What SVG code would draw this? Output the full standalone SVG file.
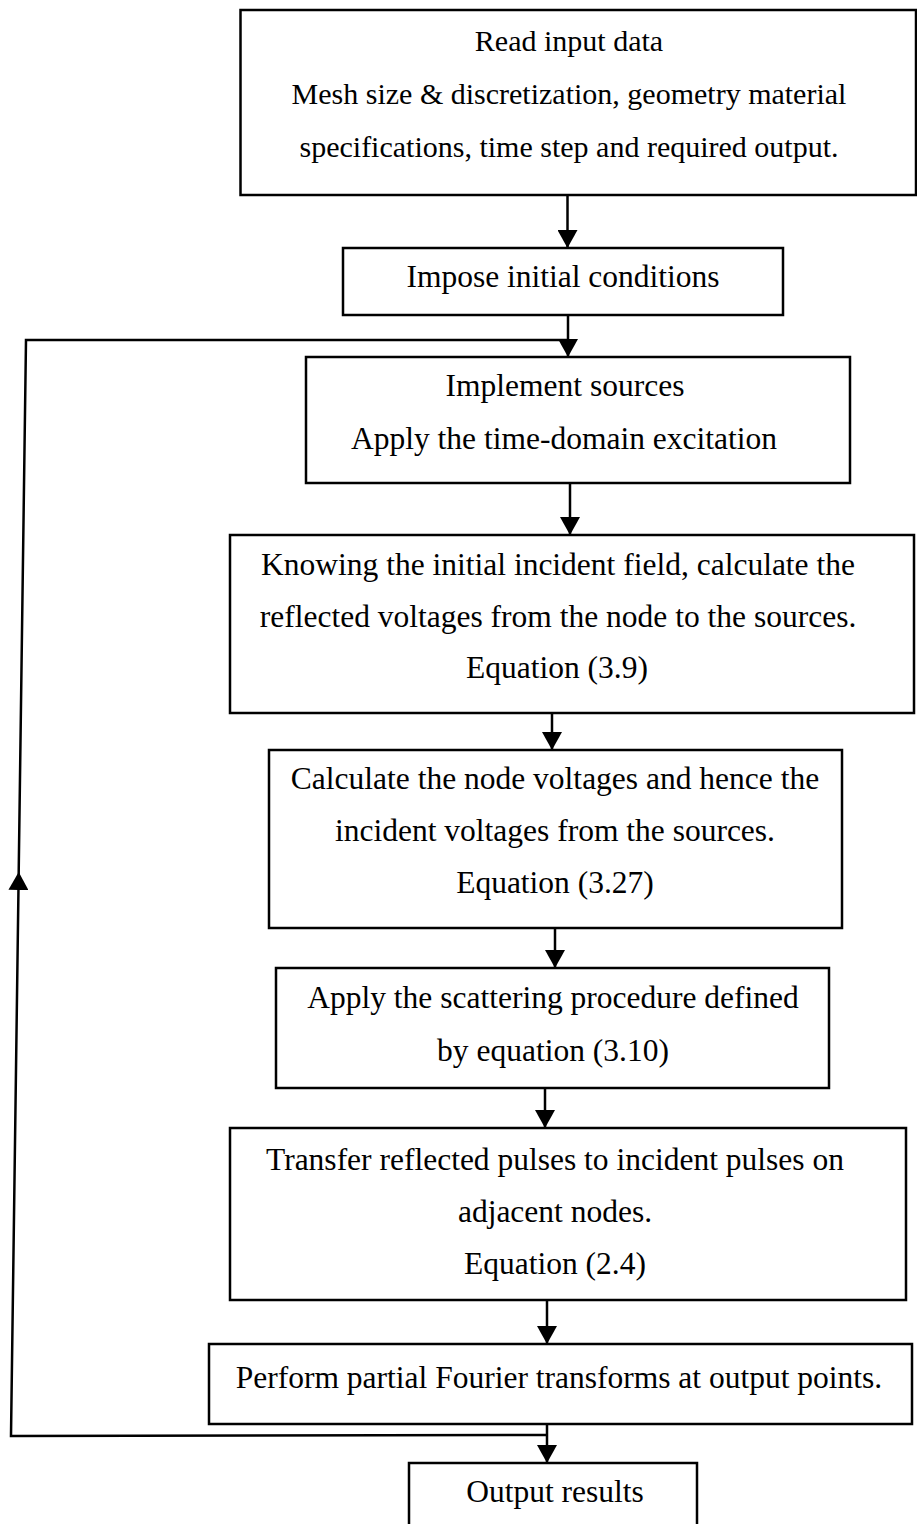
<svg xmlns="http://www.w3.org/2000/svg" width="917" height="1524" viewBox="0 0 917 1524">
<style>
.box{fill:#fff;stroke:#000;stroke-width:2.5}
.t{font-family:"Liberation Serif","Times New Roman",serif;font-size:31.5px;fill:#000;text-anchor:middle}
.t1{font-size:30px}
.c{fill:none;stroke:#000;stroke-width:2.5}
</style>
<defs>
<marker id="ah" markerUnits="userSpaceOnUse" markerWidth="22" markerHeight="20" refX="18" refY="10" orient="auto" viewBox="0 0 22 20">
<path d="M0,0 L18,10 L0,20 Z" fill="#000"/>
</marker>
</defs>
<rect width="917" height="1524" fill="#fff"/>
<g id="n1"><rect class="box" x="240.5" y="10" width="675.5" height="185"/>
<text class="t t1" x="569" y="51">Read input data</text>
<text class="t t1" x="569" y="104">Mesh size &amp; discretization, geometry material</text>
<text class="t t1" x="569" y="157">specifications, time step and required output.</text></g>
<g id="n2"><rect class="box" x="343" y="248" width="440" height="67"/>
<text class="t" x="563" y="287">Impose initial conditions</text></g>
<g id="n3"><rect class="box" x="306" y="357" width="544" height="126"/>
<text class="t" x="565" y="396">Implement sources</text>
<text class="t" x="564" y="449">Apply the time-domain excitation</text></g>
<g id="n4"><rect class="box" x="230" y="535" width="684" height="178"/>
<text class="t" x="558" y="575">Knowing the initial incident field, calculate the</text>
<text class="t" x="558" y="627">reflected voltages from the node to the sources.</text>
<text class="t" x="557" y="678">Equation (3.9)</text></g>
<g id="n5"><rect class="box" x="269" y="750" width="573" height="178"/>
<text class="t" x="555" y="789">Calculate the node voltages and hence the</text>
<text class="t" x="555" y="841">incident voltages from the sources.</text>
<text class="t" x="555" y="893">Equation (3.27)</text></g>
<g id="n6"><rect class="box" x="276" y="968" width="553" height="120"/>
<text class="t" x="553" y="1008">Apply the scattering procedure defined</text>
<text class="t" x="553" y="1061">by equation (3.10)</text></g>
<g id="n7"><rect class="box" x="230" y="1128" width="676" height="172"/>
<text class="t" x="555" y="1170">Transfer reflected pulses to incident pulses on</text>
<text class="t" x="555" y="1222">adjacent nodes.</text>
<text class="t" x="555" y="1274">Equation (2.4)</text></g>
<g id="n8"><rect class="box" x="209" y="1344" width="703" height="80"/>
<text class="t" x="559" y="1388">Perform partial Fourier transforms at output points.</text></g>
<g id="n9"><rect class="box" x="409" y="1463" width="288" height="80"/>
<text class="t" x="555" y="1502">Output results</text></g>
<g id="connectors">
<path class="c" d="M567.5,195 L567.5,248" marker-end="url(#ah)"/>
<path class="c" d="M568,315 L568,357" marker-end="url(#ah)"/>
<path class="c" d="M570,483 L570,535" marker-end="url(#ah)"/>
<path class="c" d="M552,713 L552,750" marker-end="url(#ah)"/>
<path class="c" d="M555,928 L555,968" marker-end="url(#ah)"/>
<path class="c" d="M545,1088 L545,1128" marker-end="url(#ah)"/>
<path class="c" d="M547,1300 L547,1344" marker-end="url(#ah)"/>
<path class="c" d="M547,1424 L547,1463" marker-end="url(#ah)"/>
<path class="c" d="M547,1435 L11,1436 L18.7,872" marker-end="url(#ah)"/>
<path class="c" d="M18.7,872 L26,340 L568,340"/>
</g>
</svg>
